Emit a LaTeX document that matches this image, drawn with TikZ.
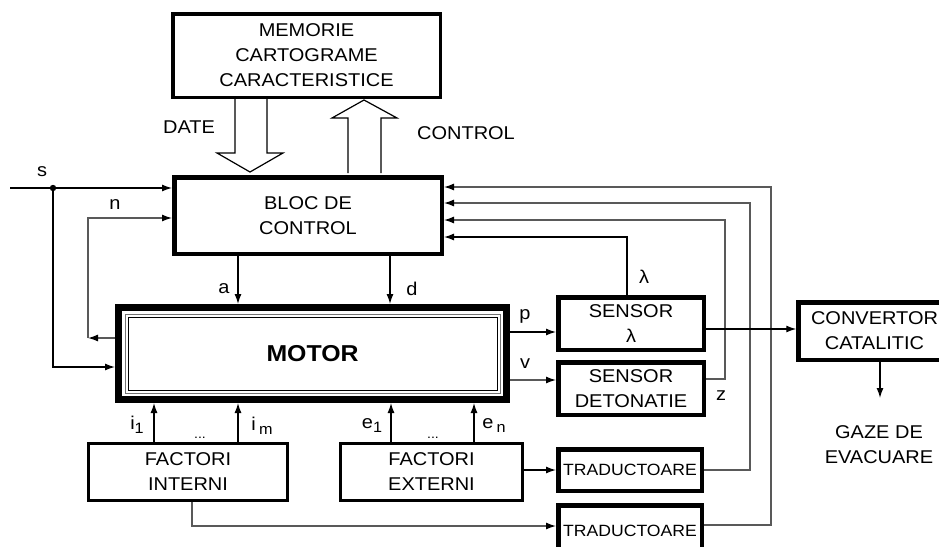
\documentclass[tikz,border=0pt]{standalone}
\usepackage{fontspec}
\setmainfont[FakeStretch=1.08]{Liberation Sans}
\usetikzlibrary{arrows.meta}
\newcommand\txtfont{\fontsize{18.5}{25}\selectfont}
\newcommand\tradfont{\fontsize{16.3}{22}\selectfont}
\newcommand\subf[1]{\raisebox{-4pt}{\fontsize{15}{15}\selectfont #1}}
\begin{document}
\begin{tikzpicture}[x=1pt,y=-1pt,
  box/.style={draw, rectangle, inner sep=0pt, align=center, font=\txtfont},
  arr/.style={line width=1.3pt, -{Latex[length=10pt,width=7pt,color=black]}},
  garr/.style={arr, draw=black!65},
  gline/.style={line width=1.2pt, draw=black!65},
  bline/.style={line width=1.3pt},
  hollow/.style={line width=1.2pt, fill=white, line join=miter},
  lbl/.style={font=\txtfont, inner sep=0pt}]
\useasboundingbox (0,0) rectangle (939,546);

% boxes
\node[box, line width=3.5pt, minimum width=267.5pt, minimum height=83.5pt] (mem) at (306.5,55.5) {MEMORIE\\CARTOGRAME\\CARACTERISTICE};
\node[box, line width=4.5pt, minimum width=267.5pt, minimum height=76.5pt] (bloc) at (308,215.5) {BLOC DE\\CONTROL};
\node[box, line width=7pt, minimum width=388pt, minimum height=92pt, font=\fontsize{23}{25}\selectfont\bfseries] (motor) at (312.5,353.5) {MOTOR};
\draw[black!55, line width=1pt] ([shift={(10,10)}]motor.north west) rectangle ([shift={(-10,-10)}]motor.south east);
\draw[black, line width=1pt] ([shift={(13,13)}]motor.north west) rectangle ([shift={(-13,-13)}]motor.south east);
\node[box, line width=4.5pt, minimum width=145.5pt, minimum height=52.5pt] (senslam) at (631,323.5) {SENSOR\\λ};
\node[box, line width=4.5pt, minimum width=145.5pt, minimum height=52.5pt] (sensdet) at (631,388.5) {SENSOR\\DETONATIE};
\node[box, line width=4.5pt, minimum width=185pt, minimum height=57.5pt] (conv) at (891,331) {};
\node[lbl, align=center] (convt) at (874.5,331) {CONVERTOR\\CATALITIC};
\node[box, line width=3pt, minimum width=199pt, minimum height=57pt] (fint) at (188,472) {FACTORI\\INTERNI};
\node[box, line width=3pt, minimum width=182pt, minimum height=57pt] (fext) at (431.5,472) {FACTORI\\EXTERNI};
\node[box, line width=4.5pt, minimum width=143.5pt, minimum height=41.5pt, font=\tradfont] (trad1) at (630,470) {TRADUCTOARE};
\node[box, line width=4.5pt, minimum width=143.5pt, minimum height=50pt, font=\tradfont] (trad2) at (630,530.5) {TRADUCTOARE};
\node[lbl, align=center] (gaze) at (879,445) {GAZE DE\\EVACUARE};

% hollow arrows
\draw[hollow] (235,99) -- (235,153) -- (217,153) -- (250,172) -- (283,153) -- (267,153) -- (267,99);
\draw[hollow] (348,173) -- (348,118) -- (332,118) -- (364,100) -- (397,118) -- (381,118) -- (381,173);
\node[lbl] (date) at (189,127) {DATE};
\node[lbl] (ctrl) at (466,133) {CONTROL};

% coordinates
\coordinate (sstart) at (10,188);
\coordinate (sdot) at (53,188);
\coordinate (sm) at (53,367);
\coordinate (nc) at (88,338);
\coordinate (nt) at (88,218);
\coordinate (ax) at (238,0);
\coordinate (dx) at (390,0);
\coordinate (i1x) at (154,0);
\coordinate (imx) at (238,0);
\coordinate (e1x) at (391,0);
\coordinate (enx) at (474,0);
\coordinate (py) at (0,332);
\coordinate (vy) at (0,380);
\coordinate (cy) at (0,329);
\coordinate (l1) at (627,237);
\coordinate (zc) at (725,379);
\coordinate (zt) at (725,220);
\coordinate (t1c) at (750,470);
\coordinate (t1t) at (750,203);
\coordinate (t2c) at (771,525);
\coordinate (t2t) at (771,187);
\coordinate (fic) at (192,526);
\coordinate (gx) at (880,398);

% s and n
\draw[arr] (sstart) -- (bloc.west |- sstart);
\fill (sdot) circle (3.2pt);
\draw[arr] (sdot) -- (sm) -- (motor.west |- sm);
\draw[garr] (motor.west |- nc) -- (nc);
\draw[garr] (nc) -- (nt) -- (bloc.west |- nt);
\node[lbl] (sl) at (42,172) {s};
\node[lbl] (nl) at (115,205) {n};

% a, d
\draw[arr] (bloc.south -| ax) -- (motor.north -| ax);
\draw[arr] (bloc.south -| dx) -- (motor.north -| dx);
\node[lbl] (al) at (224,289) {a};
\node[lbl] (dl) at (412,289) {d};

% factors
\draw[arr] (fint.north -| i1x) -- (motor.south -| i1x);
\draw[arr] (fint.north -| imx) -- (motor.south -| imx);
\draw[arr] (fext.north -| e1x) -- (motor.south -| e1x);
\draw[arr] (fext.north -| enx) -- (motor.south -| enx);
\node[lbl, anchor=base] (i1l) at (137,429) {i\subf{1}};
\node[lbl, anchor=base] (iml) at (262,430) {i\,\subf{m}};
\node[lbl, anchor=base] (e1l) at (372,428) {e\subf{1}};
\node[lbl, anchor=base] (enl) at (494,428) {e\,\subf{n}};
\node[lbl, anchor=base, font=\fontsize{13}{13}\selectfont] (dt1) at (200,438) {...};
\node[lbl, anchor=base, font=\fontsize{13}{13}\selectfont] (dt2) at (433,438) {...};

% motor to sensors
\draw[arr] (motor.east |- py) -- (senslam.west |- py);
\draw[garr] (motor.east |- vy) -- (sensdet.west |- vy);
\node[lbl] (pl) at (525,316) {p};
\node[lbl] (vl) at (525,364) {v};

% feedback lines
\draw[arr] (senslam.north -| l1) -- (l1) -- (bloc.east |- l1);
\node[lbl] (ll) at (644,277) {λ};
\draw[garr] (sensdet.east |- zc) -- (zc) -- (zt) -- (bloc.east |- zt);
\node[lbl] (zl) at (721,396) {z};
\draw[garr] (trad1.east |- t1c) -- (t1c) -- (t1t) -- (bloc.east |- t1t);
\draw[garr] (trad2.east |- t2c) -- (t2c) -- (t2t) -- (bloc.east |- t2t);

% factors to traductoare
\draw[arr] (fext.east |- trad1) -- (trad1.west);
\draw[garr] (fint.south -| fic) -- (fic) -- (trad2.west |- fic);

% convertor
\draw[arr] (senslam.east |- cy) -- (conv.west |- cy);
\draw[arr] (conv.south -| gx) -- (gx);
\end{tikzpicture}
\end{document}
